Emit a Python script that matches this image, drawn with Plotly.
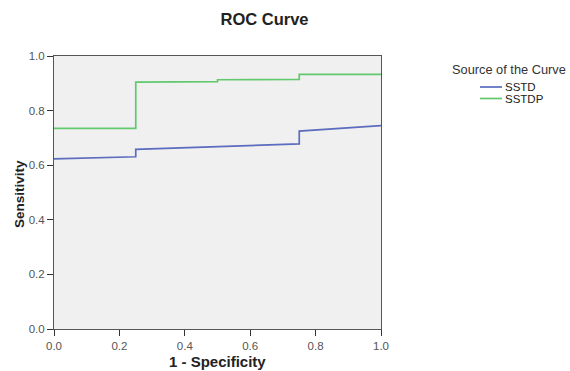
import plotly.graph_objects as go

# ROC curve points (1 - Specificity, Sensitivity)
sstd_x = [0.0, 0.25, 0.25, 0.75, 0.75, 1.0]
sstd_y = [0.623, 0.631, 0.658, 0.678, 0.725, 0.745]

sstdp_x = [0.0, 0.25, 0.25, 0.5, 0.5, 0.75, 0.75, 1.0]
sstdp_y = [0.735, 0.735, 0.904, 0.906, 0.913, 0.914, 0.933, 0.933]

series_names = ["SSTD", "SSTDP"]
series_colors = ["rgb(92,108,190)", "rgb(98,200,110)"]

tick_vals = [0.0, 0.2, 0.4, 0.6, 0.8, 1.0]
tick_text = ["0.0", "0.2", "0.4", "0.6", "0.8", "1.0"]

FONT = "Liberation Sans, Arial, sans-serif"

W, H = 570, 371
L, R, T, B = 54, 189, 56, 42
PW, PH = W - L - R, H - T - B


def px_to_paper_x(px):
    return (px - L) / PW


def px_to_paper_y(py):
    return 1 - (py - T) / PH


fig = go.Figure()
for xs, ys, name, col in [(sstd_x, sstd_y, series_names[0], series_colors[0]),
                          (sstdp_x, sstdp_y, series_names[1], series_colors[1])]:
    fig.add_trace(go.Scatter(x=xs, y=ys, mode="lines", name=name,
                             line=dict(color=col, width=1.7)))

axis_common = dict(
    range=[0, 1], tickvals=tick_vals, ticktext=tick_text,
    ticks="outside", ticklen=6, tickcolor="#333", tickwidth=1,
    showgrid=False, zeroline=False, automargin=False,
    showline=True, linecolor="#555", linewidth=1, mirror=True,
    tickfont=dict(family=FONT, size=11.5, color="#555"),
)

shapes = []
annotations = [
    dict(text="Source of the Curve", xref="paper", yref="paper",
         x=px_to_paper_x(450), xanchor="left",
         y=px_to_paper_y(69), yanchor="middle", showarrow=False,
         font=dict(family=FONT, size=12.8, color="#333")),
    dict(text="<b>1 - Specificity</b>", xref="paper", yref="paper",
         x=0.5, xanchor="center", y=px_to_paper_y(361), yanchor="middle",
         showarrow=False, font=dict(family=FONT, size=15, color="#222")),
    dict(text="<b>Sensitivity</b>", xref="paper", yref="paper",
         x=px_to_paper_x(19), xanchor="center", y=px_to_paper_y(194), yanchor="middle",
         textangle=-90, showarrow=False, font=dict(family=FONT, size=13.5, color="#222")),
]
for i, (name, col) in enumerate(zip(series_names, series_colors)):
    yy = px_to_paper_y(87 + 11.5 * i)
    shapes.append(dict(type="line", xref="paper", yref="paper",
                       x0=px_to_paper_x(480), x1=px_to_paper_x(502), y0=yy, y1=yy,
                       line=dict(color=col, width=1.7)))
    annotations.append(dict(text=name, xref="paper", yref="paper",
                            x=px_to_paper_x(503), xanchor="left", y=yy, yanchor="middle",
                            showarrow=False,
                            font=dict(family=FONT, size=11.5, color="#222")))

fig.update_layout(
    width=W, height=H,
    margin=dict(l=L, r=R, t=T, b=B),
    paper_bgcolor="white", plot_bgcolor="#f0f0f0",
    title=dict(text="<b>ROC Curve</b>", x=264.5 / W, xanchor="center",
               y=1 - 19 / H, yanchor="middle",
               font=dict(family=FONT, size=16.5, color="#222")),
    xaxis=dict(**axis_common),
    yaxis=dict(**axis_common),
    showlegend=False,
    shapes=shapes,
    annotations=annotations,
)

fig.write_html("out.html", config={"displayModeBar": False},
               post_script="document.body.style.margin='0';document.body.style.overflow='hidden';")
